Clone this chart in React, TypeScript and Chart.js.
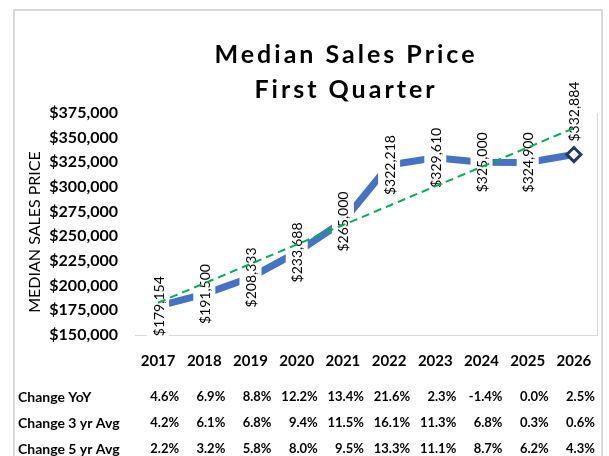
import React, { useEffect, useRef } from 'react';
import { Chart, registerables } from 'chart.js';

Chart.register(...registerables);

// ---- Data ----
const years = ['2017', '2018', '2019', '2020', '2021', '2022', '2023', '2024', '2025', '2026'];
const prices = [179154, 191500, 208333, 233688, 265000, 322218, 329610, 325000, 324900, 332884];
// Linear trendline endpoints
const trendStart = 182700;
const trendEnd = 359700;

const yMin = 150000;
const yMax = 375000;
const yStep = 25000;

const titleLines = ['Median Sales Price', 'First Quarter'];
const yAxisTitle = 'MEDIAN SALES PRICE';

const rowLabels = ['Change YoY', 'Change 3 yr Avg', 'Change 5 yr Avg'];
const changeYoY = ['4.6%', '6.9%', '8.8%', '12.2%', '13.4%', '21.6%', '2.3%', '-1.4%', '0.0%', '2.5%'];
const change3yr = ['4.2%', '6.1%', '6.8%', '9.4%', '11.5%', '16.1%', '11.3%', '6.8%', '0.3%', '0.6%'];
const change5yr = ['2.2%', '3.2%', '5.8%', '8.0%', '9.5%', '13.3%', '11.1%', '8.7%', '6.2%', '4.3%'];

const FONT = 'Lato, "Open Sans", sans-serif';
const fmt = (v: number) => '$' + v.toLocaleString('en-US');

export default function App() {
  const ref = useRef<HTMLCanvasElement>(null);

  useEffect(() => {
    const canvas = ref.current;
    if (!canvas) return;

    const trendData = years.map((_, i) =>
      i === 0 ? trendStart : i === years.length - 1 ? trendEnd : null
    );

    const labelPlugin = {
      id: 'valueLabels',
      afterDatasetDraw(chart: any, args: any) {
        if (args.index !== 0) return;
        const ctx = chart.ctx;
        ctx.save();
        ctx.font = `14px ${FONT}`;
        args.meta.data.forEach((pt: any, i: number) => {
          const text = fmt(prices[i]);
          const w = ctx.measureText(text).width;
          const last = i === prices.length - 1;
          const cy = last ? pt.y - 13 - w / 2 : pt.y;
          ctx.save();
          ctx.translate(pt.x, cy);
          ctx.rotate(-Math.PI / 2);
          if (!last) {
            ctx.fillStyle = '#ffffff';
            ctx.fillRect(-w / 2 - 4, -11, w + 8, 22);
          }
          ctx.fillStyle = '#000000';
          ctx.textAlign = 'center';
          ctx.textBaseline = 'middle';
          ctx.fillText(text, 0, 1);
          ctx.restore();
        });
        ctx.restore();
      },
    };

    const decorPlugin = {
      id: 'decor',
      afterDraw(chart: any) {
        const ctx = chart.ctx;
        const area = chart.chartArea;
        const xs = chart.scales.x;
        ctx.save();
        // outer chart border
        ctx.strokeStyle = '#D9D9D9';
        ctx.lineWidth = 2;
        ctx.strokeRect(14, 10, 588, 480);
        // plot area right border
        ctx.lineWidth = 1;
        ctx.beginPath();
        ctx.moveTo(area.right + 0.5, area.top);
        ctx.lineTo(area.right + 0.5, area.bottom);
        ctx.stroke();

        // title
        ctx.fillStyle = '#000000';
        ctx.font = `bold 25px ${FONT}`;
        (ctx as any).letterSpacing = '3px';
        ctx.textAlign = 'center';
        ctx.textBaseline = 'alphabetic';
        ctx.fillText(titleLines[0], 346, 63);
        ctx.fillText(titleLines[1], 346, 98);
        (ctx as any).letterSpacing = '0px';

        // y-axis title
        ctx.save();
        ctx.translate(35, 232);
        ctx.rotate(-Math.PI / 2);
        ctx.font = `16px ${FONT}`;
        ctx.textAlign = 'center';
        ctx.textBaseline = 'middle';
        ctx.fillText(yAxisTitle, 0, 0);
        ctx.restore();

        // table
        const rows = [changeYoY, change3yr, change5yr];
        const rowY = [397, 423, 449];
        ctx.textBaseline = 'middle';
        rows.forEach((vals, r) => {
          ctx.font = `bold 14px ${FONT}`;
          ctx.textAlign = 'left';
          ctx.fillText(rowLabels[r], 18, rowY[r]);
          ctx.font = `bold 13px ${FONT}`;
          ctx.textAlign = 'right';
          vals.forEach((v, i) => {
            ctx.fillText(v, xs.getPixelForValue(i) + 21, rowY[r]);
          });
        });
        ctx.restore();
      },
    };

    const chart = new Chart(canvas, {
      type: 'line',
      data: {
        labels: years,
        datasets: [
          {
            label: 'Median Sales Price',
            data: prices,
            order: 2,
            borderColor: '#4472C4',
            borderWidth: 7,
            borderCapStyle: 'butt',
            tension: 0,
            fill: false,
            pointStyle: 'rectRot',
            pointRadius: (c: any) => (c.dataIndex === prices.length - 1 ? 7 : 0),
            pointBorderWidth: 3,
            pointBorderColor: '#1F3864',
            pointBackgroundColor: '#ffffff',
          },
          {
            label: 'Trend',
            data: trendData,
            order: 1,
            spanGaps: true,
            borderColor: '#00B050',
            borderWidth: 2,
            borderDash: [8, 5],
            pointRadius: 0,
            fill: false,
          },
        ],
      },
      options: {
        responsive: false,
        animation: false,
        devicePixelRatio: 1,
        layout: { padding: { top: 113, right: 12, left: 0, bottom: 0 } },
        plugins: {
          legend: { display: false },
          title: { display: false },
          tooltip: { enabled: false },
        },
        scales: {
          x: {
            offset: true,
            grid: { display: false, drawTicks: false },
            border: { display: true, color: '#D9D9D9', width: 1 },
            ticks: {
              color: '#000000',
              font: { family: FONT, size: 15, weight: 'bold' },
              padding: 17,
              maxRotation: 0,
              autoSkip: false,
            },
            afterFit: (s: any) => {
              s.height = 121;
            },
          },
          y: {
            min: yMin,
            max: yMax,
            grid: { display: false, drawTicks: false },
            border: { display: false },
            ticks: {
              stepSize: yStep,
              color: '#000000',
              font: { family: FONT, size: 16, weight: 'bold' },
              padding: 17,
              callback: (v: any) => fmt(Number(v)),
            },
            afterFit: (s: any) => {
              s.width = 135;
            },
          },
        },
      },
      plugins: [labelPlugin, decorPlugin],
    } as any);

    return () => chart.destroy();
  }, []);

  return (
    <div style={{ position: 'absolute', left: 0, top: 0, width: 609, height: 456, background: '#ffffff', overflow: 'hidden' }}>
      <canvas ref={ref} width={609} height={456} style={{ display: 'block' }} />
    </div>
  );
}
